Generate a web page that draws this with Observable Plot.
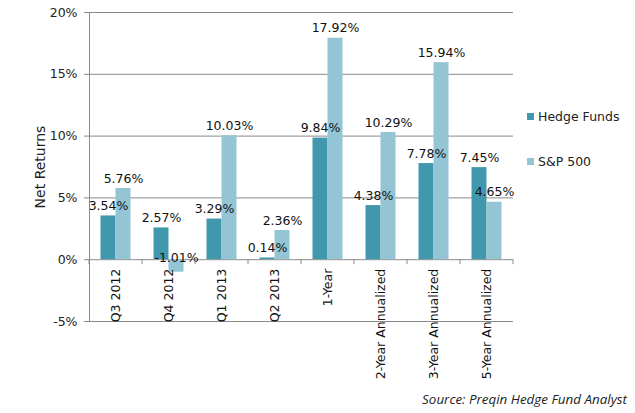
<!DOCTYPE html>
<html>
<head>
<meta charset="utf-8">
<script src="https://cdn.jsdelivr.net/npm/d3@7"></script>
<script src="https://cdn.jsdelivr.net/npm/@observablehq/plot@0.6"></script>
<style>
  body { margin: 0; background: #fff; }
  #wrap { position: relative; width: 635px; height: 413px; }
  .leg { position: absolute; font-family: "DejaVu Sans", sans-serif; font-size: 12.5px; color: #222; display: flex; align-items: center; }
  .sw { width: 7px; height: 7px; margin-right: 4px; display: inline-block; }
  #src { position: absolute; font-family: "Open Sans", sans-serif; font-style: italic; font-size: 13.4px; color: #222; }
</style>
</head>
<body>
<div id="wrap"></div>
<script>
const categories = ["Q3 2012", "Q4 2012", "Q1 2013", "Q2 2013", "1-Year", "2-Year Annualized", "3-Year Annualized", "5-Year Annualized"];
const hedgeFunds = [3.54, 2.57, 3.29, 0.14, 9.84, 4.38, 7.78, 7.45];
const sp500 = [5.76, -1.01, 10.03, 2.36, 17.92, 10.29, 15.94, 4.65];
const yTicks = [-5, 0, 5, 10, 15, 20];
const seriesNames = ["Hedge Funds", "S&P 500"];
const colors = ["#4198ac", "#94c5d4"];

const hf = categories.map((c, i) => ({cat: c, value: hedgeFunds[i]}));
const sp = categories.map((c, i) => ({cat: c, value: sp500[i]}));
const fmt = v => v.toFixed(2) + "%";
const gridColor = "#8a8a8a";

const chart = Plot.plot({
  width: 635,
  height: 413,
  marginTop: 12,
  marginRight: 122,
  marginBottom: 92,
  marginLeft: 88,
  style: {fontFamily: '"DejaVu Sans", sans-serif', fontSize: "11px", color: "#222", background: "#fff"},
  x: {domain: categories, padding: 0, axis: null},
  y: {domain: [-5, 20]},
  marks: [
    Plot.ruleY(yTicks, {stroke: gridColor, strokeWidth: 1}),
    Plot.axisY({ticks: yTicks, tickFormat: d => d + "%", tickSize: 4, tickPadding: 7, stroke: gridColor,
      label: null, fontSize: 12.5}),
    Plot.axisY({ticks: [], label: "Net Returns", labelAnchor: "center", labelArrow: "none", labelOffset: 53, fontSize: 14}),
    Plot.barY(hf, {x: "cat", y: "value", fill: colors[0], insetLeft: 11.5, insetRight: 26.5}),
    Plot.barY(sp, {x: "cat", y: "value", fill: colors[1], insetLeft: 26.5, insetRight: 11.5}),
    Plot.text(hf.filter(d => d.value >= 0), {x: "cat", y: "value", text: d => fmt(d.value), dx: -7.5, dy: -10, fill: "#111", fontSize: 12.5}),
    Plot.text(sp.filter(d => d.value >= 0), {x: "cat", y: "value", text: d => fmt(d.value), dx: 7.5, dy: -10, fill: "#111", fontSize: 12.5}),
    Plot.text(sp.filter(d => d.value < 0), {x: "cat", y: () => 0, text: d => fmt(d.value), dx: 7.5, dy: -2, fill: "#111", fontSize: 12.5}),
    Plot.text(categories, {x: d => d, y: () => 0, text: d => d, rotate: -90, textAnchor: "end", dy: 9, fontSize: 12.5, fill: "#111"})
  ]
});

// y-axis line and category boundary tick marks, from the plot's own scales
const xs = chart.scale("x"), ys = chart.scale("y");
const svg = d3.select(chart);
const y0 = ys.apply(0);
const g = svg.append("g").attr("stroke", gridColor).attr("stroke-width", 1);
g.append("line").attr("x1", xs.apply(categories[0]) + 0.5).attr("x2", xs.apply(categories[0]) + 0.5)
  .attr("y1", ys.apply(20)).attr("y2", ys.apply(-5));
const edges = categories.map(c => xs.apply(c)).concat([xs.apply(categories[categories.length - 1]) + xs.bandwidth]);
edges.forEach(e => g.append("line").attr("x1", e).attr("x2", e).attr("y1", y0).attr("y2", y0 + 5));

const wrap = document.getElementById("wrap");
wrap.appendChild(chart);

const legY = [116, 161];
seriesNames.forEach((n, i) => {
  const d = document.createElement("div");
  d.className = "leg";
  d.style.left = "527px";
  d.style.top = (legY[i] - 8) + "px";
  d.style.height = "16px";
  d.innerHTML = `<span class="sw" style="background:${colors[i]}"></span>${n.replace("&", "&amp;")}`;
  wrap.appendChild(d);
});
const src = document.createElement("div");
src.id = "src";
src.textContent = "Source: Preqin Hedge Fund Analyst";
src.style.right = "8px";
src.style.top = "390px";
wrap.appendChild(src);
</script>
</body>
</html>
